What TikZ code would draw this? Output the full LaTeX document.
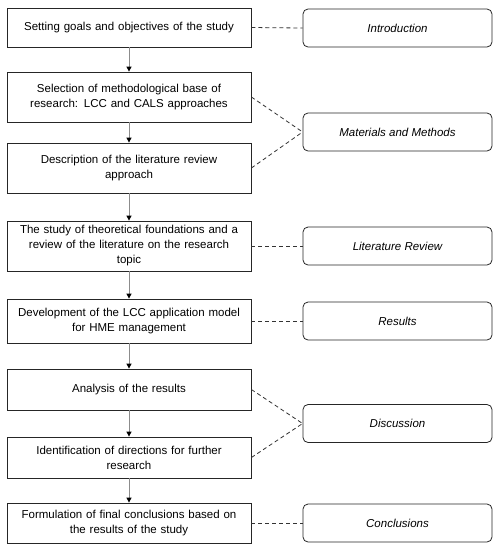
\documentclass[tikz,border=0pt]{standalone}
\usepackage{fontspec}
\setmainfont{Liberation Sans}
\usetikzlibrary{arrows.meta}
\begin{document}
\begin{tikzpicture}[x=1pt,y=-1pt,
  stepbox/.style={draw=black!85,line width=0.8pt,minimum width=244pt,text width=236pt,align=center,inner sep=0pt,font=\fontsize{11.5}{15}\selectfont},
  secbox/.style={draw=black!85,line width=0.8pt,rounded corners=5pt,minimum width=189pt,minimum height=38pt,align=center,inner sep=0pt,font=\fontsize{11.5}{15}\selectfont\itshape},
  flow/.style={draw=black!45,line width=1pt,-{Triangle[black,length=5pt,width=5pt]}},
  link/.style={draw=black!80,line width=0.8pt,dashed,dash pattern=on 4pt off 3pt}]
\useasboundingbox (0,0) rectangle (503,550);
\node[stepbox,minimum height=39pt] (s1) at (129,27.5) {Setting goals and objectives of the study};
\node[stepbox,minimum height=50pt] (s2) at (129,97) {Selection of methodological base of\\research: LCC and CALS approaches};
\node[stepbox,minimum height=50pt] (s3) at (129,168) {Description of the literature review\\approach};
\node[stepbox,minimum height=50pt] (s4) at (129,246) {The study of theoretical foundations and a\\review of the literature on the research\\topic};
\node[stepbox,minimum height=44pt] (s5) at (129,321) {Development of the LCC application model\\for HME management};
\node[stepbox,minimum height=41pt] (s6) at (129,389.5) {Analysis of the results};
\node[stepbox,minimum height=41pt] (s7) at (129,457.5) {Identification of directions for further\\research};
\node[stepbox,minimum height=40pt] (s8) at (129,523) {Formulation of final conclusions based on\\the results of the study};
\node[secbox] (r1) at (397.5,28) {Introduction};
\node[secbox] (r2) at (397.5,132) {Materials and Methods};
\node[secbox] (r3) at (397.5,246) {Literature Review};
\node[secbox] (r4) at (397.5,321) {Results};
\node[secbox] (r5) at (397.5,423.5) {Discussion};
\node[secbox] (r6) at (397.5,523) {Conclusions};
\foreach \a/\b in {s1/s2,s2/s3,s3/s4,s4/s5,s5/s6,s6/s7,s7/s8}
  \draw[flow] (\a) -- (\b);
\draw[link] (s1.east) -- (r1.west);
\draw[link] (s2.east) -- (r2.west);
\draw[link] (s3.east) -- (r2.west);
\draw[link] (s4.east) -- (r3.west);
\draw[link] (s5.east) -- (r4.west);
\draw[link] (s6.east) -- (r5.west);
\draw[link] (s7.east) -- (r5.west);
\draw[link] (s8.east) -- (r6.west);
\end{tikzpicture}
\end{document}
